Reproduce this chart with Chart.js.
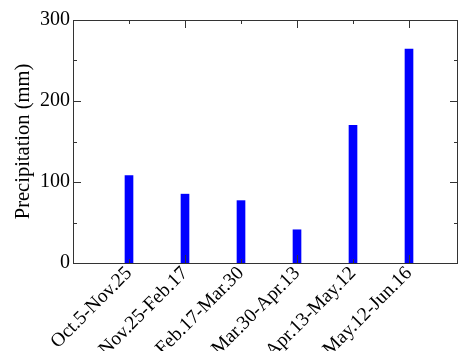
<!DOCTYPE html>
<html>
<head>
<meta charset="utf-8">
<script src="https://cdn.jsdelivr.net/npm/chart.js@4"></script>
<style>
  body { margin: 0; background: #fff; }
  canvas { display: block; }
</style>
</head>
<body>
<canvas id="precipChart" width="459" height="351"></canvas>
<script>
// data
const periods = ['Oct.5-Nov.25', 'Nov.25-Feb.17', 'Feb.17-Mar.30', 'Mar.30-Apr.13', 'Apr.13-May.12', 'May.12-Jun.16'];
const precipitation = [108, 85, 77, 41, 170, 264];
const yTicks = [0, 100, 200, 300];
const yMinorTicks = [50, 150, 250];

const FONT = 'Liberation Serif, Times New Roman, serif';
const axisColor = '#333';

// bars sit at x = 1..6 on a linear axis
const points = precipitation.map((v, i) => ({ x: i + 1, y: v }));

// box frame + inward ticks, like the original plot
const frameTicks = {
    id: 'frameTicks',
    afterDraw(chart) {
        const { ctx, chartArea: { top, bottom, left, right } } = chart;
        const xs = chart.scales.x;
        const ys = chart.scales.y;
        ctx.save();
        ctx.strokeStyle = axisColor;
        ctx.lineWidth = 1;
        ctx.strokeRect(left + 0.5, top + 0.5, right - left - 1, bottom - top);

        ctx.beginPath();
        // y ticks
        yTicks.forEach(v => {
            const py = Math.round(ys.getPixelForValue(v)) + 0.5;
            ctx.moveTo(left, py); ctx.lineTo(left + 8, py);
            ctx.moveTo(right, py); ctx.lineTo(right - 8, py);
        });
        yMinorTicks.forEach(v => {
            const py = Math.round(ys.getPixelForValue(v)) + 0.5;
            ctx.moveTo(left, py); ctx.lineTo(left + 4, py);
            ctx.moveTo(right, py); ctx.lineTo(right - 4, py);
        });
        // x ticks, even = major, odd = minor
        periods.forEach((p, i) => {
            const px = Math.round(xs.getPixelForValue(i + 1)) + 0.5;
            const len = (i + 1) % 2 === 0 ? 8 : 4;
            ctx.moveTo(px, top); ctx.lineTo(px, top + len);
            ctx.moveTo(px, bottom); ctx.lineTo(px, bottom - len);
        });
        ctx.stroke();
        ctx.restore();
    }
};

new Chart(document.getElementById('precipChart'), {
    type: 'bar',
    data: {
        datasets: [{
            label: 'Precipitation',
            data: points,
            backgroundColor: '#0000ff',
            borderWidth: 0,
            barThickness: 8
        }]
    },
    options: {
        responsive: false,
        animation: false,
        layout: { padding: { top: 20, right: 1, left: 0, bottom: 0 } },
        plugins: {
            legend: { display: false },
            tooltip: { enabled: false }
        },
        scales: {
            x: {
                type: 'linear',
                min: 0,
                max: 6.875,
                offset: false,
                grid: { display: false, drawTicks: false },
                border: { display: false },
                afterBuildTicks(scale) {
                    scale.ticks = periods.map((p, i) => ({ value: i + 1 }));
                },
                afterFit(scale) { scale.height = 88; },
                ticks: {
                    autoSkip: false,
                    minRotation: 45,
                    maxRotation: 45,
                    padding: -1,
                    color: '#000',
                    font: { family: FONT, size: 19.5 },
                    callback: (v) => periods[v - 1] || ''
                }
            },
            y: {
                min: 0,
                max: 300,
                grid: { display: false, drawTicks: false },
                border: { display: false },
                afterBuildTicks(scale) {
                    scale.ticks = yTicks.map(v => ({ value: v }));
                },
                afterFit(scale) { scale.width = 73; },
                ticks: {
                    padding: 3,
                    color: '#000',
                    font: { family: FONT, size: 20 }
                },
                title: {
                    display: true,
                    text: 'Precipitation (mm)',
                    color: '#000',
                    font: { family: FONT, size: 20.5 },
                    padding: { top: 11, bottom: 0 }
                }
            }
        }
    },
    plugins: [frameTicks]
});
</script>
</body>
</html>
